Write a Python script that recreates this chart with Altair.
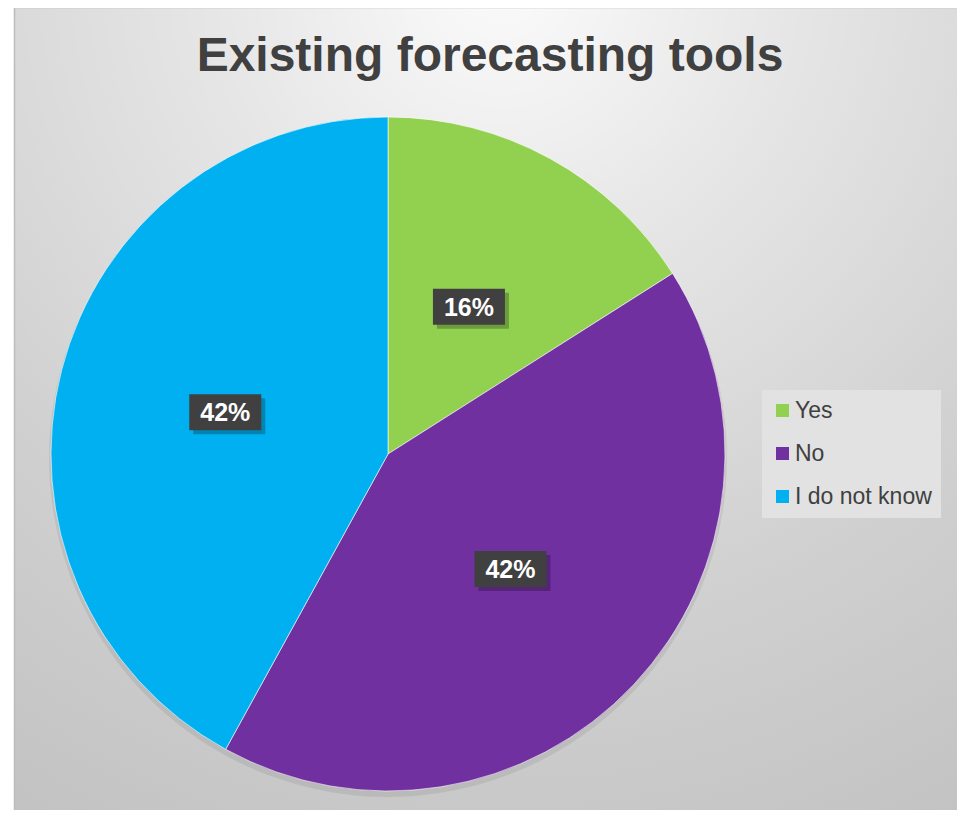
import altair as alt
import pandas as pd

# ---- data ----
categories = ["Yes", "No", "I do not know"]
values = [16, 42, 42]
order = [0, 1, 2]
colors = ["#92D050", "#7030A0", "#00B0F0"]
title_text = "Existing forecasting tools"

df = pd.DataFrame({"cat": categories, "val": values, "ord": order})

# ---- layout constants ----
W, H = 949, 802
CX, CY, R = 380, 446, 337
LR = 168
FONT = "Liberation Sans"

bg = alt.Chart(pd.DataFrame({"a": [0]})).mark_rect(
    fill={
        "gradient": "radial",
        "x1": 0.5, "y1": 0.04, "r1": 0,
        "x2": 0.5, "y2": 0.04, "r2": 1.0,
        "stops": [
            {"offset": 0.0, "color": "#fbfbfb"},
            {"offset": 0.3, "color": "#e6e6e6"},
            {"offset": 0.65, "color": "#d1d1d1"},
            {"offset": 1.0, "color": "#c2c2c2"},
        ],
    },
    stroke="#bdbdbd",
    strokeWidth=1.5,
).encode(x=alt.value(6.5), x2=alt.value(W + 30), y=alt.value(-0.5), y2=alt.value(H + 30))

base = alt.Chart(df)

pie_shadow = base.mark_arc(radius=R + 2, color="black", opacity=0.07).encode(
    theta=alt.Theta("val:Q", stack=True),
    order=alt.Order("ord:Q"),
    x=alt.value(CX),
    y=alt.value(CY + 4),
)

pie = base.mark_arc(radius=R, stroke="#ffffff", strokeWidth=0.6).encode(
    theta=alt.Theta("val:Q", stack=True),
    order=alt.Order("ord:Q"),
    color=alt.Color(
        "cat:N",
        scale=alt.Scale(domain=categories, range=colors),
        sort=categories,
        legend=alt.Legend(
            title=None,
            orient="none",
            legendX=754,
            legendY=382,
            direction="vertical",
            symbolType="square",
            symbolSize=170,
            symbolStrokeWidth=0,
            labelFontSize=23,
            labelFont=FONT,
            labelColor="#404040",
            labelOffset=1,
            rowPadding=19,
            padding=9,
            fillColor="#e2e2e2",
        ),
    ),
    x=alt.value(CX),
    y=alt.value(CY),
)

lab = base.transform_joinaggregate(total="sum(val)").transform_window(
    cum="sum(val)", sort=[alt.SortField("ord")], frame=[None, 0]
).transform_calculate(
    mid="(datum.cum - datum.val/2)/datum.total*2*PI",
    px=f"{CX} + {LR}*sin(datum.mid)",
    py=f"{CY} - {LR}*cos(datum.mid)",
    pct="datum.val/datum.total",
    bx1="datum.px - 36", bx2="datum.px + 36",
    by1="datum.py - 18", by2="datum.py + 18",
    sx1="datum.px - 32", sx2="datum.px + 40",
    sy1="datum.py - 14", sy2="datum.py + 22",
)

lab_shadow = lab.mark_rect(color="black", opacity=0.25).encode(
    x=alt.X("sx1:Q", scale=None), x2="sx2:Q",
    y=alt.Y("sy1:Q", scale=None), y2="sy2:Q",
)
lab_box = lab.mark_rect(color="#404040").encode(
    x=alt.X("bx1:Q", scale=None), x2="bx2:Q",
    y=alt.Y("by1:Q", scale=None), y2="by2:Q",
)
lab_text = lab.mark_text(
    font=FONT, fontWeight="bold", fontSize=25, color="white",
    align="center", baseline="middle", dy=1,
).encode(
    x=alt.X("px:Q", scale=None),
    y=alt.Y("py:Q", scale=None),
    text=alt.Text("pct:Q", format=".0%"),
)

title = alt.Chart(pd.DataFrame({"t": [title_text]})).mark_text(
    font=FONT, fontWeight="bold", fontSize=48, color="#404040",
    align="center", baseline="alphabetic",
).encode(x=alt.value(482), y=alt.value(63), text="t:N")

chart = alt.layer(bg, pie_shadow, pie, lab_shadow, lab_box, lab_text, title).properties(
    width=W, height=H,
    autosize=alt.AutoSizeParams(type="none"),
    padding=0,
).configure_view(stroke=None)

chart.save("out.html", embed_options={"renderer": "svg", "actions": False})
